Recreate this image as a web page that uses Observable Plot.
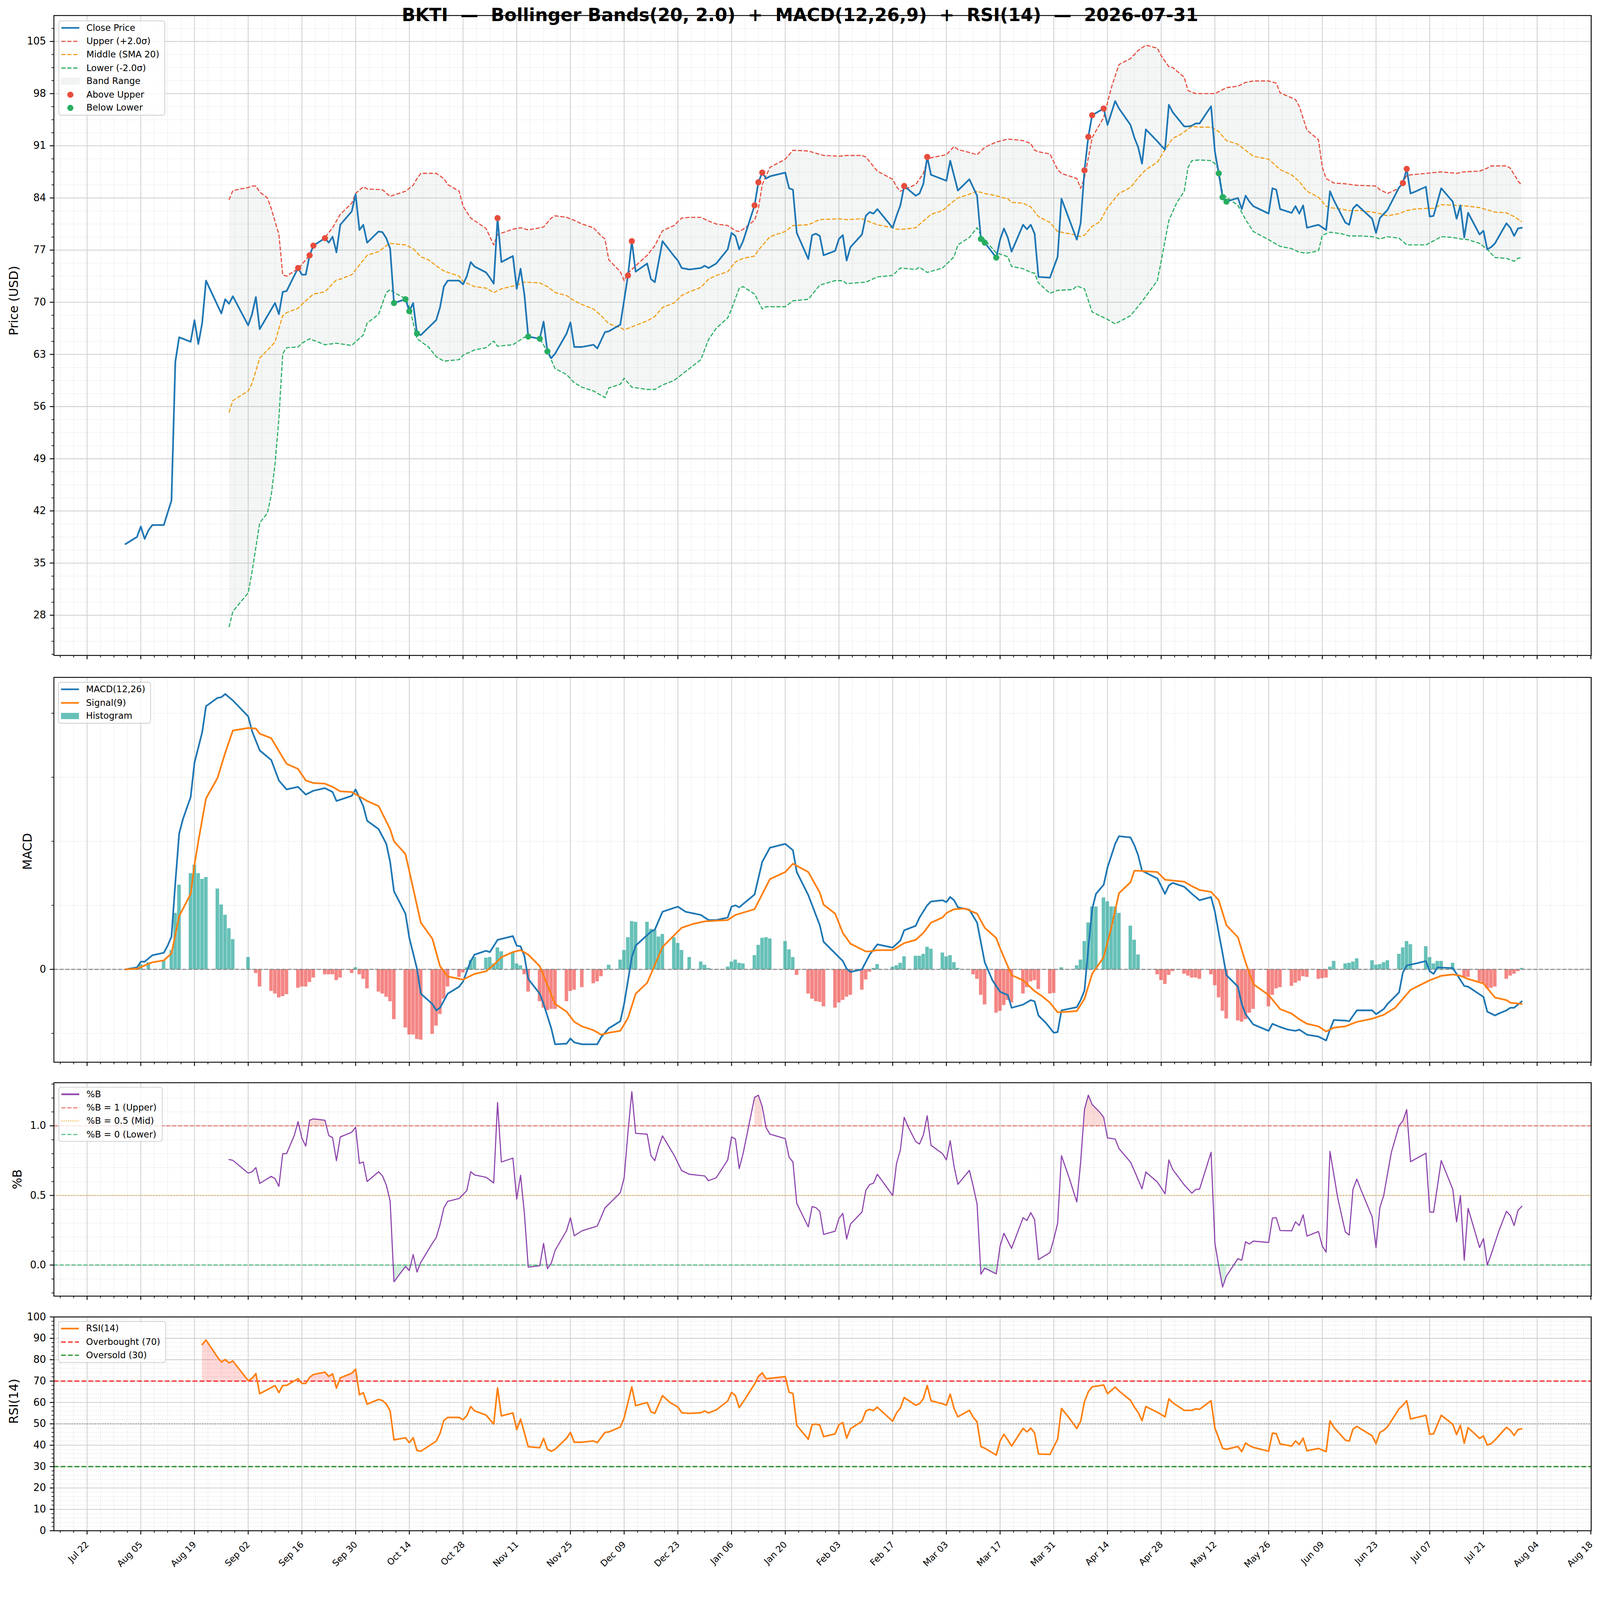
<!DOCTYPE html>
<html><head><meta charset="utf-8">
<script src="https://cdn.jsdelivr.net/npm/d3@7"></script>
<script src="https://cdn.jsdelivr.net/npm/@observablehq/plot@0.6"></script>
<style>
html,body{margin:0;padding:0;background:#fff;overflow:hidden;}
#fig{position:absolute;left:0;top:0;width:4378px;height:4322px;background:#fff;overflow:hidden;font-family:"DejaVu Sans";transform-origin:0 0;}
#title{position:absolute;left:0;top:18px;width:4378px;text-align:center;font-weight:bold;font-size:48.9px;line-height:48.9px;white-space:pre;color:#000;z-index:5;}
.legend{position:absolute;background:rgba(255,255,255,0.8);border:2px solid #cccccc;border-radius:7px;padding:6px 14px 6px 6px;font-size:24.4px;color:#000;z-index:6;}
.legend .row{display:flex;align-items:center;height:24.4px;line-height:24.4px;white-space:nowrap;}
.legend .row + .row{margin-top:12.2px;}
.legend svg{flex:none;margin-right:19.5px;overflow:visible;}
</style></head>
<body><div id="fig"><div id="title">BKTI  —  Bollinger Bands(20, 2.0)  +  MACD(12,26,9)  +  RSI(14)  —  2026-07-31</div></div>
<script>
// ---------- DATA (day offsets from 2025-08-01) ----------
const startDate = "2025-08-01";
const closePts = [[0,37.55],[3,38.5],[4,39.9],[5,38.25],[6,39.4],[7,40.1],[10,40.1],[12,43.4],[13,62.0],[14,65.3],[17,64.7],[18,67.6],[19,64.4],[20,67.2],[21,72.9],[25,68.5],[26,70.4],[27,69.8],[28,70.8],[32,66.9],[33,68.4],[34,70.7],[35,66.4],[39,69.9],[40,68.4],[41,71.4],[42,71.5],[45,74.6],[46,73.7],[47,73.7],[48,76.3],[49,77.6],[52,78.6],[53,78.0],[54,78.8],[55,76.7],[56,80.4],[59,82.2],[60,84.5],[61,79.7],[62,80.4],[63,78.0],[66,79.5],[67,79.4],[68,78.6],[69,77.2],[70,69.9],[73,70.4],[74,68.8],[75,69.9],[76,65.8],[77,65.6],[81,67.6],[82,69.3],[83,72.1],[84,72.9],[87,72.9],[88,72.4],[89,73.5],[90,75.4],[91,74.8],[94,74.0],[95,73.3],[96,72.5],[97,81.3],[98,75.4],[101,76.2],[102,71.8],[103,74.5],[104,71.0],[105,65.4],[108,65.1],[109,67.4],[110,63.4],[111,62.5],[112,63.1],[115,65.8],[116,67.3],[117,64.0],[119,64.0],[122,64.3],[123,63.8],[125,66.0],[126,66.1],[129,67.0],[131,73.6],[132,78.2],[133,74.1],[136,75.2],[137,73.1],[138,72.7],[140,78.2],[143,76.2],[144,75.6],[145,74.6],[147,74.4],[150,74.6],[151,74.9],[152,74.6],[154,75.2],[157,77.1],[158,79.3],[159,78.9],[160,77.1],[161,78.2],[164,83.0],[165,86.1],[166,87.4],[167,86.6],[168,86.9],[172,87.4],[173,85.3],[174,85.1],[175,79.3],[178,75.8],[179,79.0],[180,79.2],[181,78.9],[182,76.3],[185,76.9],[186,78.5],[187,79.0],[188,75.6],[189,77.4],[192,79.1],[193,81.6],[194,82.1],[195,81.9],[196,82.5],[200,80.0],[201,81.6],[202,83.0],[203,85.6],[206,84.3],[207,84.6],[208,85.9],[209,89.5],[210,87.1],[214,86.3],[215,89.0],[217,85.0],[220,86.5],[222,84.3],[223,78.5],[224,78.0],[227,76.0],[228,78.4],[229,79.9],[230,78.7],[231,76.8],[234,80.4],[235,79.8],[236,80.4],[237,79.2],[238,73.4],[241,73.3],[243,76.1],[244,83.9],[248,78.4],[249,80.6],[250,87.7],[251,92.2],[252,95.1],[255,96.0],[256,93.8],[258,97.0],[259,96.0],[262,93.8],[263,92.1],[264,90.8],[265,88.6],[266,93.2],[269,91.6],[270,91.0],[271,90.5],[272,96.5],[273,95.5],[276,93.6],[277,93.6],[278,93.7],[279,94.0],[280,94.0],[283,96.3],[284,90.2],[285,87.3],[286,84.1],[287,83.5],[290,84.0],[291,82.5],[292,84.3],[293,83.5],[294,82.9],[298,81.9],[299,85.3],[300,85.1],[301,82.5],[304,82.0],[305,82.9],[306,81.9],[307,83.0],[308,80.0],[311,80.4],[313,79.7],[314,84.9],[315,83.7],[318,80.7],[319,80.4],[320,82.6],[321,83.1],[325,81.2],[326,79.3],[327,81.3],[329,82.4],[332,85.4],[333,86.0],[334,87.9],[335,84.6],[336,84.8],[339,85.5],[340,81.5],[341,81.6],[343,85.3],[346,83.5],[347,81.2],[348,83.0],[349,78.7],[350,82.0],[353,79.1],[354,79.6],[355,77.1],[356,77.4],[357,77.9],[360,80.6],[361,80.0],[362,78.9],[363,79.9],[364,80.0]];
const upperPts = [[27,83.75],[28,85.0],[32,85.4],[33,85.6],[34,85.6],[35,84.8],[37,84.0],[38,82.6],[40,79.1],[41,73.7],[42,73.5],[45,74.5],[48,76.3],[49,77.5],[52,78.7],[54,80.0],[56,81.8],[59,83.3],[60,84.6],[62,85.5],[63,85.2],[67,85.1],[69,84.2],[70,84.4],[73,84.9],[75,85.7],[76,86.6],[77,87.3],[81,87.3],[83,86.6],[84,85.8],[87,84.9],[88,82.9],[90,81.3],[94,79.9],[96,77.7],[97,79.1],[101,79.8],[103,80.0],[105,79.7],[109,80.1],[111,81.3],[112,81.6],[115,81.4],[117,81.0],[119,80.5],[122,80.0],[124,78.9],[125,78.5],[126,75.7],[129,74.1],[130,72.9],[131,73.9],[133,74.9],[136,76.3],[138,77.6],[140,79.6],[143,80.3],[145,81.3],[147,81.4],[150,81.4],[152,80.9],[154,80.5],[157,80.3],[159,79.6],[160,79.5],[161,79.8],[164,81.0],[165,82.6],[166,85.8],[168,88.1],[172,89.2],[174,90.4],[178,90.3],[182,89.7],[186,89.6],[188,89.7],[192,89.7],[193,89.5],[196,87.6],[200,86.5],[201,85.5],[202,84.9],[206,85.8],[208,87.3],[209,89.0],[210,89.4],[214,89.8],[216,90.9],[217,90.5],[220,90.1],[222,89.8],[224,90.8],[227,91.5],[230,91.9],[234,91.7],[236,91.3],[237,90.4],[238,90.2],[241,89.9],[243,87.8],[244,87.3],[248,86.6],[249,85.3],[250,86.7],[252,92.1],[255,94.8],[257,98.8],[259,101.9],[262,102.7],[264,103.8],[266,104.5],[269,104.1],[270,103.1],[272,101.6],[273,101.5],[276,100.2],[277,98.4],[279,98.0],[284,98.0],[287,98.8],[290,99.0],[292,99.5],[294,99.7],[298,99.7],[300,99.4],[301,98.1],[305,97.2],[306,96.3],[308,93.1],[311,91.8],[312,88.1],[313,86.6],[315,86.0],[318,85.9],[321,85.7],[326,85.6],[327,85.1],[329,84.6],[332,85.3],[334,87.0],[335,87.1],[339,87.3],[343,87.5],[347,87.3],[349,87.5],[353,87.6],[355,88.0],[356,88.3],[360,88.3],[361,88.0],[363,86.3],[364,85.7]];
const middlePts = [[27,55.2],[28,56.8],[32,58.1],[33,59.1],[35,62.5],[38,64.1],[39,64.7],[41,68.2],[42,68.6],[45,69.2],[47,70.2],[49,71.1],[52,71.4],[55,73.0],[56,73.1],[59,73.7],[61,75.0],[63,76.3],[66,76.8],[68,77.6],[69,77.9],[73,77.7],[75,77.2],[77,76.1],[79,75.7],[81,74.9],[83,74.2],[87,73.5],[88,72.8],[91,72.1],[94,71.9],[96,71.3],[98,71.8],[102,72.3],[104,72.7],[108,72.6],[110,72.1],[112,71.3],[115,70.9],[117,70.2],[119,69.7],[122,69.1],[124,68.2],[126,67.1],[129,66.6],[130,66.3],[133,66.9],[136,67.5],[138,68.1],[140,69.3],[143,69.9],[145,70.9],[147,71.4],[150,72.0],[152,73.1],[154,73.6],[157,74.1],[159,75.4],[161,75.9],[164,76.2],[165,77.0],[168,78.8],[172,79.5],[174,80.3],[178,80.4],[181,81.1],[186,81.2],[188,81.1],[192,81.2],[196,80.4],[200,80.0],[201,79.8],[203,79.8],[206,80.0],[208,80.9],[210,81.8],[213,82.3],[215,83.2],[217,84.0],[220,84.5],[222,84.9],[224,84.6],[227,84.3],[229,84.0],[230,83.9],[231,83.4],[234,83.3],[236,82.8],[238,81.5],[241,80.7],[243,79.5],[247,79.1],[249,78.8],[250,79.0],[252,80.2],[254,80.8],[256,82.7],[259,84.6],[262,85.4],[264,86.7],[266,87.8],[269,88.8],[271,90.5],[273,92.0],[275,92.5],[278,93.6],[280,93.5],[283,93.5],[285,92.9],[287,91.7],[290,91.2],[292,90.4],[294,89.6],[298,89.2],[301,87.8],[304,87.1],[306,86.2],[308,84.9],[311,84.1],[313,82.9],[314,82.7],[317,82.5],[319,82.3],[322,82.3],[325,82.1],[327,81.9],[329,81.6],[332,81.9],[334,82.3],[336,82.5],[339,82.6],[341,82.6],[343,83.1],[347,83.0],[350,82.9],[353,82.7],[355,82.4],[357,82.1],[360,82.0],[362,81.5],[364,80.8]];
const lowerPts = [[27,26.4],[28,28.5],[32,31.0],[33,33.8],[35,40.4],[37,41.7],[38,44.1],[39,48.3],[40,54.4],[41,63.1],[42,63.9],[45,64.0],[46,64.5],[48,65.1],[49,64.9],[52,64.3],[55,64.5],[59,64.2],[60,64.7],[62,65.6],[63,67.2],[66,68.4],[68,71.3],[69,71.7],[70,71.3],[73,70.5],[74,69.4],[76,65.1],[79,64.0],[81,62.7],[83,62.1],[87,62.3],[88,62.9],[91,63.6],[94,63.9],[96,64.8],[97,64.1],[101,64.3],[104,65.3],[105,65.4],[108,65.1],[110,63.4],[112,61.1],[115,60.3],[117,59.2],[119,58.6],[122,58.1],[124,57.5],[125,57.2],[126,58.5],[129,59.0],[130,59.8],[132,58.6],[136,58.3],[138,58.3],[140,58.9],[143,59.5],[145,60.3],[147,61.1],[150,62.3],[152,65.0],[154,66.5],[157,67.9],[158,69.1],[160,71.9],[161,72.1],[164,71.1],[166,69.1],[167,69.4],[172,69.4],[174,70.2],[178,70.4],[181,72.3],[185,72.9],[187,72.9],[188,72.5],[193,72.7],[196,73.4],[200,73.6],[202,74.6],[206,74.4],[207,74.7],[209,74.0],[213,74.6],[216,76.1],[217,77.7],[220,78.7],[222,80.0],[223,79.0],[227,76.6],[229,76.3],[230,76.1],[231,74.8],[234,74.5],[236,74.0],[237,73.9],[238,72.6],[241,71.2],[243,71.6],[247,71.7],[248,72.2],[250,71.8],[252,68.7],[256,67.7],[258,67.1],[262,68.2],[265,70.1],[269,72.9],[270,75.5],[272,81.0],[274,83.3],[276,84.9],[277,88.1],[278,89.0],[280,89.1],[283,89.0],[284,88.6],[285,87.8],[286,84.6],[287,84.1],[290,83.0],[292,81.1],[294,79.5],[298,78.4],[301,77.5],[304,77.2],[306,76.7],[308,76.6],[311,76.9],[312,79.0],[314,79.4],[317,79.2],[319,78.9],[322,78.9],[325,78.8],[327,78.5],[329,78.8],[332,78.6],[334,77.7],[337,77.7],[339,77.7],[343,78.8],[346,78.7],[348,78.5],[350,78.4],[353,77.9],[355,77.1],[357,76.0],[360,75.9],[362,75.5],[363,75.9],[364,76.0]];
const aboveUpperDays = [45,48,49,52,97,131,132,164,165,166,203,209,250,251,252,255,333,334];
const belowLowerDays = [70,73,74,76,105,108,110,223,224,227,285,286,287];
const macdPts = [[0,0],[3,0.03],[4,0.12],[5,0.12],[7,0.22],[10,0.26],[11,0.37],[12,0.51],[13,1.35],[14,2.12],[15,2.35],[17,2.69],[18,3.23],[20,3.70],[21,4.11],[24,4.24],[25,4.25],[26,4.30],[28,4.20],[32,3.95],[33,3.72],[35,3.42],[38,3.27],[40,2.95],[42,2.81],[45,2.85],[47,2.73],[49,2.79],[52,2.83],[54,2.77],[55,2.63],[59,2.71],[60,2.81],[62,2.55],[63,2.32],[66,2.19],[68,1.96],[69,1.68],[70,1.22],[73,0.87],[74,0.49],[76,0.01],[77,-0.38],[80,-0.54],[81,-0.64],[82,-0.60],[84,-0.38],[87,-0.27],[88,-0.19],[90,0.13],[91,0.23],[94,0.29],[95,0.27],[97,0.46],[101,0.52],[102,0.37],[103,0.36],[104,0.21],[105,-0.15],[108,-0.38],[109,-0.54],[111,-0.92],[112,-1.17],[115,-1.16],[116,-1.08],[117,-1.14],[119,-1.17],[123,-1.17],[124,-1.06],[126,-0.92],[129,-0.81],[130,-0.54],[132,0.19],[133,0.37],[137,0.59],[138,0.62],[140,0.90],[144,0.98],[146,0.90],[150,0.85],[152,0.77],[154,0.77],[157,0.81],[158,0.98],[159,1.00],[160,0.97],[164,1.17],[166,1.68],[168,1.90],[172,1.96],[174,1.86],[175,1.52],[178,1.16],[181,0.69],[182,0.43],[186,0.19],[187,0.13],[188,0.01],[189,-0.04],[192,0],[194,0.23],[196,0.39],[200,0.34],[202,0.45],[203,0.61],[206,0.68],[207,0.81],[209,1.00],[210,1.06],[213,1.08],[214,1.05],[215,1.13],[216,1.08],[217,0.97],[220,0.93],[222,0.73],[224,0.11],[226,-0.17],[228,-0.35],[230,-0.40],[231,-0.60],[234,-0.55],[236,-0.48],[237,-0.50],[238,-0.72],[240,-0.84],[242,-0.99],[243,-0.98],[244,-0.64],[248,-0.59],[249,-0.48],[250,-0.33],[251,0.33],[252,0.94],[253,1.18],[255,1.32],[256,1.59],[258,1.96],[259,2.08],[262,2.06],[263,1.94],[264,1.78],[265,1.54],[269,1.42],[271,1.18],[272,1.31],[273,1.35],[276,1.29],[278,1.18],[280,1.08],[283,1.13],[284,0.90],[285,0.57],[286,0.25],[287,-0.09],[290,-0.27],[291,-0.54],[292,-0.70],[294,-0.86],[298,-0.96],[299,-0.85],[301,-0.90],[303,-0.94],[305,-0.96],[306,-0.94],[308,-1.02],[311,-1.05],[313,-1.11],[314,-0.94],[315,-0.79],[318,-0.80],[319,-0.81],[321,-0.64],[325,-0.64],[326,-0.70],[328,-0.62],[329,-0.54],[332,-0.36],[333,-0.05],[334,0.06],[337,0.10],[339,0.13],[340,-0.03],[341,-0.07],[342,0.03],[346,0.02],[347,-0.07],[349,-0.26],[350,-0.27],[352,-0.35],[354,-0.43],[355,-0.66],[357,-0.72],[358,-0.69],[360,-0.64],[361,-0.60],[362,-0.60],[364,-0.50]];
const signalPts = [[0,0],[3,0.01],[5,0.06],[7,0.11],[10,0.14],[12,0.25],[14,0.83],[17,1.18],[18,1.64],[19,2.0],[21,2.67],[24,2.99],[26,3.38],[28,3.73],[32,3.77],[34,3.76],[35,3.68],[38,3.61],[42,3.21],[45,3.13],[47,2.95],[49,2.91],[52,2.90],[54,2.85],[56,2.78],[59,2.77],[63,2.63],[66,2.55],[69,2.19],[70,2.00],[73,1.80],[77,0.73],[80,0.48],[82,0.05],[84,-0.11],[88,-0.16],[91,-0.07],[94,-0.03],[96,0.07],[98,0.19],[101,0.27],[103,0.30],[105,0.23],[108,0.05],[112,-0.54],[115,-0.66],[117,-0.82],[119,-0.89],[122,-0.95],[124,-1.02],[126,-0.99],[129,-0.96],[131,-0.76],[133,-0.38],[136,-0.21],[140,0.35],[142,0.47],[145,0.65],[148,0.71],[151,0.75],[157,0.77],[159,0.85],[164,0.94],[168,1.41],[172,1.52],[174,1.65],[178,1.52],[181,1.20],[182,1.01],[185,0.87],[187,0.57],[189,0.40],[191,0.34],[193,0.28],[194,0.28],[196,0.30],[200,0.30],[203,0.41],[206,0.46],[208,0.57],[210,0.73],[213,0.81],[214,0.88],[216,0.94],[219,0.95],[220,0.92],[222,0.87],[224,0.65],[227,0.49],[228,0.33],[231,-0.09],[234,-0.17],[237,-0.34],[239,-0.42],[241,-0.52],[243,-0.67],[246,-0.66],[248,-0.65],[250,-0.46],[252,-0.07],[255,0.19],[257,0.65],[259,1.19],[262,1.36],[263,1.54],[264,1.54],[269,1.52],[271,1.40],[276,1.37],[278,1.30],[280,1.24],[283,1.21],[285,1.08],[287,0.69],[290,0.50],[292,0.11],[294,-0.23],[298,-0.40],[301,-0.62],[304,-0.69],[306,-0.78],[308,-0.85],[311,-0.89],[313,-0.97],[315,-0.91],[318,-0.89],[321,-0.82],[325,-0.77],[328,-0.71],[331,-0.60],[335,-0.32],[338,-0.23],[340,-0.17],[343,-0.10],[346,-0.08],[348,-0.10],[350,-0.15],[354,-0.22],[357,-0.44],[360,-0.48],[361,-0.52],[364,-0.54]];
const histPts = [[4,0.08],[6,0.11],[10,0.14],[12,0.30],[13,0.88],[14,1.32],[17,1.50],[18,1.63],[19,1.50],[20,1.41],[21,1.44],[24,1.26],[25,1.01],[26,0.85],[27,0.64],[28,0.47],[32,0.19],[34,-0.06],[35,-0.27],[38,-0.34],[39,-0.38],[40,-0.44],[41,-0.42],[42,-0.39],[45,-0.29],[46,-0.27],[47,-0.27],[48,-0.20],[49,-0.13],[52,-0.08],[53,-0.08],[54,-0.08],[55,-0.17],[56,-0.13],[59,-0.06],[60,0.03],[61,-0.08],[62,-0.15],[63,-0.30],[66,-0.35],[67,-0.38],[68,-0.43],[69,-0.50],[70,-0.78],[73,-0.91],[74,-1.02],[75,-1.02],[76,-1.09],[77,-1.10],[80,-1.01],[81,-0.88],[82,-0.70],[83,-0.46],[84,-0.27],[87,-0.12],[88,-0.05],[89,0.03],[90,0.14],[91,0.19],[94,0.18],[95,0.19],[96,0.09],[97,0.34],[98,0.28],[101,0.26],[102,0.09],[103,0.06],[104,-0.08],[105,-0.35],[108,-0.50],[109,-0.60],[110,-0.64],[111,-0.62],[112,-0.62],[115,-0.50],[116,-0.34],[117,-0.32],[119,-0.28],[122,-0.22],[123,-0.19],[124,-0.11],[126,0.07],[129,0.15],[130,0.30],[131,0.50],[132,0.75],[133,0.74],[136,0.74],[137,0.63],[138,0.61],[139,0.51],[140,0.55],[143,0.50],[144,0.41],[145,0.30],[147,0.19],[150,0.12],[151,0.07],[152,0.02],[157,0.04],[158,0.12],[159,0.15],[160,0.10],[161,0.09],[164,0.22],[165,0.38],[166,0.49],[167,0.50],[168,0.48],[172,0.44],[173,0.31],[174,0.19],[175,-0.09],[178,-0.38],[179,-0.46],[180,-0.50],[181,-0.51],[182,-0.58],[185,-0.60],[186,-0.52],[187,-0.48],[188,-0.43],[189,-0.40],[192,-0.32],[193,-0.16],[194,-0.04],[195,0.02],[196,0.08],[200,0.04],[201,0.06],[202,0.10],[203,0.20],[206,0.21],[207,0.21],[208,0.24],[209,0.35],[210,0.32],[213,0.26],[214,0.20],[215,0.22],[216,0.11],[217,0.02],[221,-0.08],[222,-0.15],[223,-0.40],[224,-0.55],[227,-0.68],[228,-0.65],[229,-0.56],[230,-0.48],[231,-0.52],[234,-0.38],[235,-0.28],[236,-0.19],[237,-0.17],[238,-0.31],[241,-0.38],[242,-0.37],[244,0.03],[248,0.06],[249,0.15],[250,0.44],[251,0.73],[252,0.98],[253,0.98],[255,1.12],[256,1.06],[257,0.98],[258,0.98],[259,0.88],[262,0.68],[263,0.46],[264,0.23],[269,-0.08],[270,-0.17],[271,-0.23],[272,-0.09],[273,-0.03],[276,-0.07],[277,-0.10],[278,-0.13],[279,-0.13],[280,-0.15],[283,-0.08],[284,-0.25],[285,-0.44],[286,-0.65],[287,-0.77],[290,-0.80],[291,-0.82],[292,-0.78],[293,-0.68],[294,-0.62],[298,-0.58],[299,-0.40],[300,-0.30],[301,-0.28],[304,-0.26],[305,-0.21],[306,-0.18],[307,-0.11],[308,-0.12],[311,-0.15],[312,-0.14],[313,-0.13],[314,0.04],[315,0.13],[318,0.09],[319,0.10],[320,0.12],[321,0.17],[325,0.14],[326,0.07],[327,0.08],[328,0.11],[329,0.14],[332,0.24],[333,0.34],[334,0.44],[335,0.39],[339,0.36],[340,0.19],[341,0.09],[342,0.13],[343,0.13],[346,0.10],[349,-0.12],[350,-0.12],[353,-0.19],[354,-0.23],[355,-0.30],[356,-0.29],[357,-0.27],[360,-0.15],[361,-0.10],[362,-0.07],[363,-0.03],[364,0.02]];
const pctBPts = [[27,0.758],[28,0.752],[32,0.66],[33,0.67],[34,0.70],[35,0.586],[38,0.637],[39,0.62],[40,0.565],[41,0.80],[42,0.80],[44,0.93],[45,1.03],[46,0.91],[47,0.855],[48,1.04],[49,1.05],[52,1.04],[53,0.93],[54,0.915],[55,0.75],[56,0.92],[59,0.954],[60,0.99],[61,0.73],[62,0.74],[63,0.60],[66,0.67],[67,0.64],[68,0.575],[69,0.46],[70,-0.12],[73,-0.01],[74,-0.04],[75,0.075],[76,-0.05],[77,0.02],[80,0.156],[81,0.197],[82,0.29],[83,0.41],[84,0.458],[87,0.478],[89,0.535],[90,0.67],[91,0.647],[94,0.63],[96,0.59],[97,1.167],[98,0.74],[101,0.768],[102,0.473],[103,0.645],[104,0.37],[105,-0.015],[108,-0.005],[109,0.156],[110,-0.026],[111,0.013],[112,0.105],[115,0.248],[116,0.34],[117,0.21],[119,0.246],[123,0.28],[125,0.41],[129,0.52],[130,0.627],[131,0.954],[132,1.245],[133,0.946],[136,0.94],[137,0.785],[138,0.75],[139,0.85],[140,0.928],[143,0.79],[145,0.678],[147,0.652],[151,0.64],[152,0.606],[154,0.627],[157,0.755],[158,0.92],[159,0.905],[160,0.693],[161,0.80],[164,1.204],[165,1.22],[166,1.138],[167,0.987],[168,0.94],[172,0.908],[173,0.775],[174,0.74],[175,0.443],[178,0.274],[179,0.42],[180,0.412],[181,0.386],[182,0.22],[185,0.243],[186,0.335],[187,0.371],[188,0.187],[189,0.294],[192,0.381],[193,0.535],[194,0.578],[195,0.588],[196,0.652],[200,0.50],[201,0.729],[202,0.826],[203,1.061],[204,0.995],[206,0.887],[207,0.869],[208,0.934],[209,1.072],[210,0.86],[213,0.80],[214,0.755],[215,0.893],[216,0.709],[217,0.58],[220,0.68],[221,0.565],[222,0.438],[223,-0.066],[224,-0.022],[227,-0.063],[228,0.136],[229,0.228],[231,0.12],[234,0.34],[235,0.32],[236,0.376],[237,0.325],[238,0.039],[241,0.09],[242,0.187],[243,0.30],[244,0.785],[246,0.627],[248,0.453],[249,0.739],[250,1.118],[251,1.22],[252,1.153],[254,1.097],[255,1.061],[256,0.913],[258,0.905],[259,0.836],[262,0.739],[263,0.678],[265,0.547],[266,0.668],[269,0.596],[271,0.512],[272,0.755],[273,0.686],[276,0.576],[278,0.516],[279,0.543],[280,0.545],[283,0.81],[284,0.156],[285,-0.007],[286,-0.158],[287,-0.079],[290,0.046],[291,0.034],[292,0.167],[293,0.151],[294,0.172],[298,0.162],[299,0.338],[300,0.34],[301,0.248],[304,0.246],[305,0.31],[306,0.284],[307,0.361],[308,0.208],[311,0.241],[312,0.136],[313,0.093],[314,0.816],[316,0.484],[318,0.238],[319,0.216],[320,0.545],[321,0.617],[322,0.545],[325,0.346],[326,0.126],[327,0.412],[328,0.50],[330,0.81],[332,1.0],[333,1.036],[334,1.116],[335,0.742],[339,0.803],[340,0.381],[341,0.379],[343,0.75],[346,0.545],[347,0.31],[348,0.50],[349,0.034],[350,0.407],[353,0.126],[354,0.19],[355,0.0],[356,0.075],[358,0.243],[360,0.386],[361,0.356],[362,0.284],[363,0.392],[364,0.422]];
const rsiPts = [[20,87.1],[21,89.2],[24,81.2],[25,78.9],[26,80.1],[27,78.5],[28,79.4],[32,70.2],[33,71.3],[34,73.5],[35,64.1],[39,67.9],[40,64.6],[41,67.9],[42,68.0],[45,71.1],[46,68.9],[47,68.9],[48,71.7],[49,73.1],[52,74.2],[53,72.2],[54,73.4],[55,66.7],[56,71.5],[59,73.7],[60,75.6],[61,63.6],[62,64.6],[63,59.2],[66,61.4],[67,60.9],[68,59.3],[69,56.0],[70,42.5],[73,43.5],[74,41.2],[75,43.5],[76,37.5],[77,37.2],[81,41.9],[82,45.5],[83,51.6],[84,53.0],[87,53.0],[88,51.9],[89,53.9],[90,58.1],[91,56.1],[94,54.1],[96,49.9],[97,66.8],[98,53.7],[101,55.1],[102,47.3],[103,52.2],[105,39.3],[108,38.8],[109,43.2],[110,38.1],[111,37.2],[112,38.1],[115,43.3],[116,46.0],[117,41.4],[119,41.4],[122,42.0],[123,41.2],[125,46.0],[126,46.2],[129,48.5],[130,52.8],[132,67.3],[133,58.5],[136,60.0],[137,55.6],[138,54.9],[140,63.2],[142,59.9],[144,57.9],[145,55.2],[147,54.9],[150,55.2],[151,56.0],[152,55.1],[154,56.5],[157,60.7],[158,64.7],[159,63.2],[160,57.6],[161,60.2],[164,68.6],[165,72.2],[166,73.9],[167,71.1],[168,71.3],[172,72.1],[173,64.8],[174,64.2],[175,49.3],[178,42.8],[179,49.6],[180,49.9],[181,49.4],[182,44.0],[185,45.3],[186,49.6],[187,50.6],[188,43.3],[189,47.7],[192,51.2],[193,56.0],[194,56.8],[195,56.2],[196,57.8],[200,51.2],[201,55.1],[202,57.4],[203,62.3],[206,58.7],[207,59.4],[208,61.8],[209,67.9],[210,60.8],[213,59.4],[214,58.7],[215,63.9],[216,57.2],[217,53.3],[220,56.3],[221,53.1],[222,50.9],[223,39.4],[224,38.6],[227,35.4],[228,41.9],[229,45.1],[230,42.5],[231,39.6],[234,47.9],[235,46.2],[236,48.0],[237,45.7],[238,35.9],[241,35.7],[243,42.8],[244,57.2],[246,52.8],[248,47.8],[249,51.2],[250,60.4],[251,65.0],[252,67.3],[255,68.2],[256,64.1],[258,67.2],[259,65.4],[262,61.0],[263,57.8],[264,55.4],[265,51.5],[266,58.1],[269,55.4],[271,53.3],[272,61.7],[273,59.9],[276,56.3],[278,56.3],[279,57.0],[280,56.8],[283,60.8],[284,48.0],[286,38.6],[287,38.1],[290,39.4],[291,37.0],[292,41.1],[293,39.8],[294,39.0],[298,37.2],[299,45.7],[300,45.4],[301,40.6],[304,39.6],[305,42.0],[306,40.3],[307,43.3],[308,37.4],[311,38.5],[313,37.0],[314,51.4],[315,48.4],[318,42.4],[319,41.9],[320,47.5],[321,48.8],[325,44.4],[326,40.7],[327,46.0],[328,47.0],[329,48.6],[332,57.0],[333,58.7],[334,60.8],[335,52.3],[339,54.0],[340,45.1],[341,45.3],[343,54.0],[346,49.8],[347,45.0],[348,49.3],[349,40.9],[350,48.2],[353,43.2],[354,44.3],[355,40.1],[356,40.7],[357,42.4],[360,48.4],[361,47.0],[362,44.6],[363,47.3],[364,47.7]];
const xTickDates = ["2025-07-22","2025-08-05","2025-08-19","2025-09-02","2025-09-16","2025-09-30","2025-10-14","2025-10-28","2025-11-11","2025-11-25","2025-12-09","2025-12-23","2026-01-06","2026-01-20","2026-02-03","2026-02-17","2026-03-03","2026-03-17","2026-03-31","2026-04-14","2026-04-28","2026-05-12","2026-05-26","2026-06-09","2026-06-23","2026-07-07","2026-07-21","2026-08-04","2026-08-18"];
const priceTicks = [28,35,42,49,56,63,70,77,84,91,98,105];
const macdTicks = [0];
const pctBTicks = [0,0.5,1.0];
const rsiTicks = [0,10,20,30,40,50,60,70,80,90,100];

// ---------- helpers ----------
const DAY = 864e5;
const T0 = Date.parse(startDate);
const toDate = d => new Date(T0 + d * DAY);
const W = 4378, FL = 147, FR = 4353.5;
const xDomain = [toDate(-18.65), toDate(382.1)];
const majorX = xTickDates.map(s => new Date(s));
const minorX = [];
for (let i = 0; i < majorX.length; i++) {
  for (const k of [-3, -2, -1, 1, 2, 3]) {
    if (k < 0 && i > 0) continue;
    const t = new Date(+majorX[i] + k * 3.5 * DAY);
    if (t >= xDomain[0] && t <= xDomain[1]) minorX.push(t);
  }
}
const fmtX = d3.utcFormat("%b %d");
const P = p => toDate(p[0]);
const V = p => p[1];
function minorsBetween(majors, step, lo, hi) {
  const out = [];
  const m0 = majors[0];
  for (let k = -40; k < 400; k++) {
    const v = +(m0 + k * step).toFixed(6);
    if (v < lo || v > hi) continue;
    if (majors.some(m => Math.abs(m - v) < 1e-6)) continue;
    out.push(v);
  }
  return out;
}

function panel({top, bottom, yDomain, yMajor, yMinor, yFmt, marks, ylabel, ylabelDx, bottomLabels}) {
  const mt = 12, mb = bottomLabels ? 130 : 24;
  const h = bottom - top;
  const svg = Plot.plot({
    width: W, height: h + mt + mb,
    marginLeft: FL, marginRight: W - FR, marginTop: mt, marginBottom: mb,
    style: {fontFamily: "DejaVu Sans", fontSize: "27.5px", background: "transparent", overflow: "visible", color: "black"},
    x: {type: "utc", domain: xDomain},
    y: {domain: yDomain},
    marks: [
      Plot.ruleY(yMinor, {stroke: "#d9d9d9", strokeWidth: 1.6, strokeDasharray: "2,3.5"}),
      Plot.ruleX(minorX, {stroke: "#d9d9d9", strokeWidth: 1.6, strokeDasharray: "2,3.5"}),
      Plot.ruleY(yMajor, {stroke: "#cfcfcf", strokeWidth: 2.2}),
      Plot.ruleX(majorX, {stroke: "#cfcfcf", strokeWidth: 2.2}),
      ...marks,
      Plot.axisY({ticks: yMajor, anchor: "left", tickSize: 10.7, tickPadding: 10.7, tickFormat: yFmt, strokeWidth: 2.4, label: null, fontSize: 27.5}),
      Plot.axisY({ticks: yMinor, anchor: "left", tickSize: 6.1, tickFormat: () => "", strokeWidth: 1.8, label: null}),
      Plot.axisX({ticks: majorX, anchor: "bottom", tickSize: 10.7, tickFormat: () => "", strokeWidth: 2.4, label: null}),
      Plot.axisX({ticks: minorX, anchor: "bottom", tickSize: 6.1, tickFormat: () => "", strokeWidth: 1.8, label: null}),
      bottomLabels ? Plot.text(majorX, {x: d => d, frameAnchor: "bottom", dy: 27, dx: -6, rotate: -45, textAnchor: "end", lineAnchor: "top", text: d => fmtX(d), fontSize: 24.4, fill: "black"}) : null,
      Plot.text([ylabel], {frameAnchor: "left", dx: ylabelDx, rotate: -90, text: d => d, fontSize: 33.6, fill: "black"}),
      Plot.frame({stroke: "black", strokeWidth: 2.4})
    ]
  });
  svg.style.position = "absolute";
  svg.style.left = "0px";
  svg.style.top = (top - mt) + "px";
  svg.style.maxWidth = "none";
  return svg;
}

const fig = document.getElementById("fig");
const closeMap = new Map(closePts);

// ---------- Panel 1: price + Bollinger ----------
const bandPoly = [...upperPts, ...lowerPts.slice().reverse()];
const dash1 = "11.3,4.9";
fig.appendChild(panel({
  top: 42, bottom: 1793, yDomain: [22.6, 108.48], yMajor: priceTicks,
  yMinor: minorsBetween(priceTicks, 1.75, 22.6, 108.48), yFmt: d => String(d),
  ylabel: "Price (USD)", ylabelDx: -109,
  marks: [
    Plot.line(bandPoly, {x: P, y: V, fill: "#95a5a6", fillOpacity: 0.1, stroke: "none"}),
    Plot.line(upperPts, {x: P, y: V, stroke: "#e74c3c", strokeWidth: 3.05, strokeDasharray: dash1, strokeLinecap: "butt"}),
    Plot.line(middlePts, {x: P, y: V, stroke: "#f39c12", strokeWidth: 3.05, strokeDasharray: dash1, strokeLinecap: "butt"}),
    Plot.line(lowerPts, {x: P, y: V, stroke: "#27ae60", strokeWidth: 3.05, strokeDasharray: dash1, strokeLinecap: "butt"}),
    Plot.line(closePts, {x: P, y: V, stroke: "#1f77b4", strokeWidth: 4.6}),
    Plot.dot(aboveUpperDays, {x: d => toDate(d), y: d => closeMap.get(d), r: 8.4, fill: "#e74c3c", stroke: "none"}),
    Plot.dot(belowLowerDays, {x: d => toDate(d), y: d => closeMap.get(d), r: 8.4, fill: "#27ae60", stroke: "none"})
  ]
}));

// ---------- Panel 2: MACD ----------
const hw = 0.46;
fig.appendChild(panel({
  top: 1853, bottom: 2906, yDomain: [-1.45, 4.56], yMajor: macdTicks,
  yMinor: [-1, 1, 2, 3, 4], yFmt: d => String(d),
  ylabel: "MACD", ylabelDx: -72,
  marks: [
    Plot.rect(histPts.filter(p => p[1] >= 0), {x1: p => toDate(p[0] - hw), x2: p => toDate(p[0] + hw), y1: () => 0, y2: V, fill: "#26a69a", fillOpacity: 0.7}),
    Plot.rect(histPts.filter(p => p[1] < 0), {x1: p => toDate(p[0] - hw), x2: p => toDate(p[0] + hw), y1: () => 0, y2: V, fill: "#ef5350", fillOpacity: 0.7}),
    Plot.ruleY([0], {stroke: "#808080", strokeWidth: 3, strokeDasharray: "11,5", strokeOpacity: 0.85}),
    Plot.line(macdPts, {x: P, y: V, stroke: "#1f77b4", strokeWidth: 4.6}),
    Plot.line(signalPts, {x: P, y: V, stroke: "#ff7f0e", strokeWidth: 4.6})
  ]
}));

// ---------- Panel 3: %B ----------
fig.appendChild(panel({
  top: 2962, bottom: 3546, yDomain: [-0.2231, 1.3097], yMajor: pctBTicks,
  yMinor: minorsBetween(pctBTicks, 0.1, -0.2231, 1.3097), yFmt: d3.format(".1f"),
  ylabel: "%B", ylabelDx: -100,
  marks: [
    Plot.areaY(pctBPts, {x: P, y1: () => 1, y2: p => p[1] > 1 ? p[1] : NaN, fill: "#e74c3c", fillOpacity: 0.2}),
    Plot.areaY(pctBPts, {x: P, y1: () => 0, y2: p => p[1] < 0 ? p[1] : NaN, fill: "#27ae60", fillOpacity: 0.2}),
    Plot.ruleY([1], {stroke: "#e74c3c", strokeOpacity: 0.7, strokeWidth: 3.05, strokeDasharray: "11.3,4.9"}),
    Plot.ruleY([0.5], {stroke: "#f39c12", strokeOpacity: 0.7, strokeWidth: 3.05, strokeDasharray: "3,5"}),
    Plot.ruleY([0], {stroke: "#27ae60", strokeOpacity: 0.7, strokeWidth: 3.05, strokeDasharray: "11.3,4.9"}),
    Plot.line(pctBPts, {x: P, y: V, stroke: "#8e44ad", strokeWidth: 3.05})
  ]
}));

// ---------- Panel 4: RSI ----------
fig.appendChild(panel({
  top: 3603, bottom: 4188, yDomain: [0, 100], yMajor: rsiTicks,
  yMinor: minorsBetween(rsiTicks, 2, 0, 100), yFmt: d => String(d),
  ylabel: "RSI(14)", ylabelDx: -109, bottomLabels: true,
  marks: [
    Plot.areaY(rsiPts, {x: P, y1: () => 70, y2: p => p[1] >= 70 ? p[1] : NaN, fill: "red", fillOpacity: 0.15}),
    Plot.ruleY([50], {stroke: "#808080", strokeOpacity: 0.8, strokeWidth: 3, strokeDasharray: "3,4"}),
    Plot.ruleY([70], {stroke: "red", strokeOpacity: 0.8, strokeWidth: 3.6, strokeDasharray: "13,6"}),
    Plot.ruleY([30], {stroke: "green", strokeOpacity: 0.8, strokeWidth: 3.6, strokeDasharray: "13,6"}),
    Plot.line(rsiPts, {x: P, y: V, stroke: "#ff7f0e", strokeWidth: 4.3})
  ]
}));

// ---------- Legends ----------
function lineH(color, w, dash, op) {
  return `<svg width="49" height="24.4"><line x1="0" y1="12.2" x2="49" y2="12.2" stroke="${color}" stroke-width="${w}" ${dash ? `stroke-dasharray="${dash}"` : ""} stroke-opacity="${op || 1}"/></svg>`;
}
function patchH(color, op, edge) {
  return `<svg width="49" height="24.4"><rect x="0" y="3.6" width="49" height="17.1" fill="${color}" fill-opacity="${op}" stroke="${edge || "none"}" stroke-opacity="${op}" stroke-width="1.5"/></svg>`;
}
function dotH(color) {
  return `<svg width="49" height="24.4"><circle cx="24.5" cy="12.2" r="8.4" fill="${color}"/></svg>`;
}
function legend(left, top, rows) {
  const div = document.createElement("div");
  div.className = "legend";
  div.style.left = left + "px";
  div.style.top = top + "px";
  div.innerHTML = rows.map(([h, t]) => `<div class="row">${h}<span>${t}</span></div>`).join("");
  fig.appendChild(div);
}
legend(160, 56, [
  [lineH("#1f77b4", 4.6), "Close Price"],
  [lineH("#e74c3c", 3.05, dash1), "Upper (+2.0σ)"],
  [lineH("#f39c12", 3.05, dash1), "Middle (SMA 20)"],
  [lineH("#27ae60", 3.05, dash1), "Lower (-2.0σ)"],
  [patchH("#95a5a6", 0.12, "#95a5a6"), "Band Range"],
  [dotH("#e74c3c"), "Above Upper"],
  [dotH("#27ae60"), "Below Lower"]
]);
legend(159, 1866, [
  [lineH("#1f77b4", 4.6), "MACD(12,26)"],
  [lineH("#ff7f0e", 4.6), "Signal(9)"],
  [patchH("#26a69a", 0.7), "Histogram"]
]);
legend(160, 2974, [
  [lineH("#8e44ad", 4.6), "%B"],
  [lineH("#e74c3c", 3.05, "11.3,4.9", 0.7), "%B = 1 (Upper)"],
  [lineH("#f39c12", 3.05, "3,3", 0.7), "%B = 0.5 (Mid)"],
  [lineH("#27ae60", 3.05, "11.3,4.9", 0.7), "%B = 0 (Lower)"]
]);
legend(159, 3615, [
  [lineH("#ff7f0e", 4.6), "RSI(14)"],
  [lineH("red", 3.6, "13,6", 0.8), "Overbought (70)"],
  [lineH("green", 3.6, "13,6", 0.8), "Oversold (30)"]
]);

// fit the 4378-px-wide figure into whatever CSS viewport the browser reports
function fit() {
  const vw = window.innerWidth || document.documentElement.clientWidth || W;
  const s = vw / W;
  fig.style.transform = Math.abs(s - 1) > 1e-3 ? `scale(${s})` : "none";
}
fit();
window.addEventListener("resize", fit);
</script></body></html>
